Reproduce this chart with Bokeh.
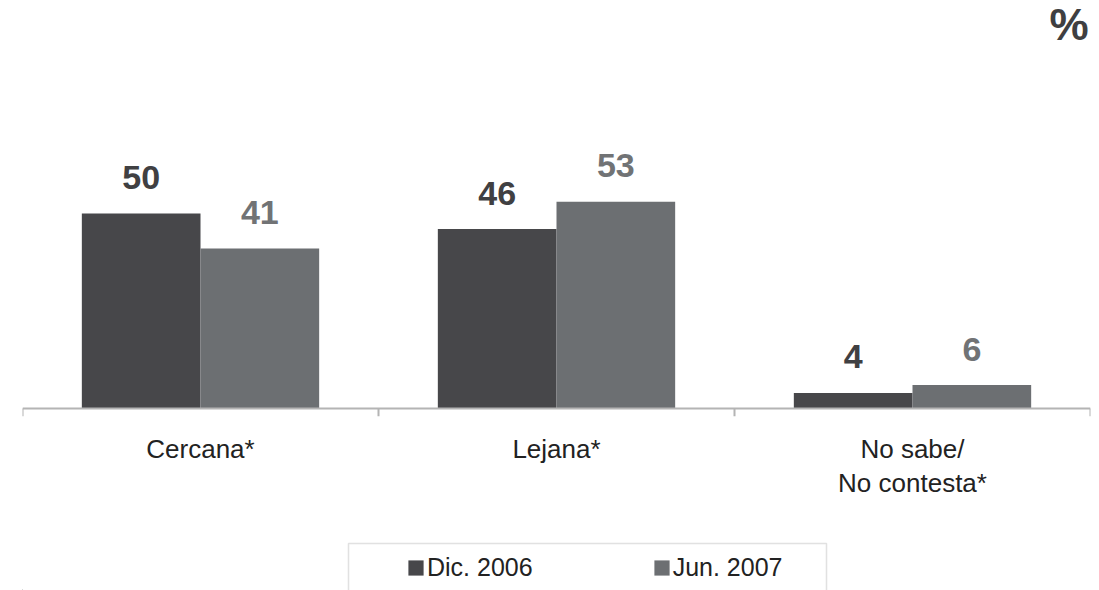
from bokeh.plotting import figure
from bokeh.layouts import column
from bokeh.models import (ColumnDataSource, FactorRange, Range1d, Span, Legend,
                          LegendItem, Label, BoxAnnotation)
from bokeh.transform import dodge
from bokeh.core.properties import value
from bokeh.embed import file_html
from bokeh.resources import INLINE

# ---- data ----
categories = ["Cercana*", "Lejana*", "No sabe/\nNo contesta*"]
series = ["Dic. 2006", "Jun. 2007"]
dic_2006 = [50, 46, 4]
jun_2007 = [41, 53, 6]
unit_label = "%"

FONT = "Liberation Sans"
C_DIC = "#47474a"
C_JUN = "#6c6f72"
C_DIC_TXT = "#404042"
C_JUN_TXT = "#717375"
C_AXIS = "#b4b4b4"

src = ColumnDataSource(dict(
    cat=categories,
    dic=dic_2006,
    jun=jun_2007,
    dic_lbl=[str(v) for v in dic_2006],
    jun_lbl=[str(v) for v in jun_2007],
))

p = figure(width=1099, height=535,
           x_range=FactorRange(factors=categories, range_padding=0),
           y_range=Range1d(-2.05, 104.62),
           output_backend="svg", toolbar_location=None,
           y_axis_location=None,
           min_border_left=22, min_border_right=9,
           min_border_top=0, min_border_bottom=119)
p.outline_line_color = None
p.xgrid.visible = False
p.ygrid.visible = False
p.background_fill_color = "white"
p.border_fill_color = "white"

r1 = p.vbar(x=dodge("cat", -1/6, range=p.x_range), top="dic", width=1/3,
            source=src, fill_color=C_DIC, line_color=None)
r2 = p.vbar(x=dodge("cat", 1/6, range=p.x_range), top="jun", width=1/3,
            source=src, fill_color=C_JUN, line_color=None)

p.text(x=dodge("cat", -1/6, range=p.x_range), y="dic", text="dic_lbl", source=src,
       text_font=value(FONT), text_font_style="bold", text_font_size="34px",
       text_align="center", text_baseline="alphabetic", y_offset=-36,
       text_color=C_DIC_TXT)
p.text(x=dodge("cat", 1/6, range=p.x_range), y="jun", text="jun_lbl", source=src,
       text_font=value(FONT), text_font_style="bold", text_font_size="34px",
       text_align="center", text_baseline="alphabetic", y_offset=-36,
       text_color=C_JUN_TXT)

# baseline and boundary ticks
p.add_layout(Span(location=0, dimension="width", line_color=C_AXIS, line_width=2))
tick_src = ColumnDataSource(dict(cat=categories))
last_src = ColumnDataSource(dict(cat=categories[-1:]))
p.segment(x0=dodge("cat", -0.5, range=p.x_range), y0=0,
          x1=dodge("cat", -0.5, range=p.x_range), y1=-2.05,
          source=tick_src, line_color=C_AXIS, line_width=2)
p.segment(x0=dodge("cat", 0.5, range=p.x_range), y0=0,
          x1=dodge("cat", 0.5, range=p.x_range), y1=-2.05,
          source=last_src, line_color=C_AXIS, line_width=2)

ax = p.xaxis[0]
ax.axis_line_color = None
ax.major_tick_line_color = None
ax.minor_tick_line_color = None
ax.major_tick_out = 0
ax.major_label_standoff = 17
ax.major_label_text_font = FONT
ax.major_label_text_font_size = "26px"
ax.major_label_text_color = "#222222"
ax.major_label_text_line_height = 1.14

# unit label
p.add_layout(Label(x=1066, y=417, x_units="screen", y_units="screen",
                   text=unit_label, text_align="right", text_baseline="top",
                   text_font=FONT, text_font_style="bold", text_font_size="44px",
                   text_color="#3f3f41"))

# ---- legend strip ----
p2 = figure(width=1099, height=55, x_range=Range1d(0, 1099), y_range=Range1d(0, 55),
            output_backend="svg", toolbar_location=None,
            x_axis_location=None, y_axis_location=None,
            min_border=0, min_border_left=0, min_border_right=0,
            min_border_top=0, min_border_bottom=0)
p2.outline_line_color = None
p2.xgrid.visible = False
p2.ygrid.visible = False
p2.background_fill_color = "white"
p2.border_fill_color = "white"

# swatch renderers for the legend (placed outside the visible range)
lr1 = p2.vbar(x=[-500], top=[1], width=1, fill_color=C_DIC, line_color=None)
lr2 = p2.vbar(x=[-500], top=[1], width=1, fill_color=C_JUN, line_color=None)

p2.add_layout(BoxAnnotation(left=326, right=804, top=47, bottom=-10,
                            left_units="screen", right_units="screen",
                            top_units="screen", bottom_units="screen",
                            fill_alpha=0, line_color="#9a9a9a", line_width=1.5))

legend = Legend(items=[LegendItem(label=series[0], renderers=[lr1]),
                       LegendItem(label=series[1], renderers=[lr2])],
                orientation="horizontal", location=(384, 8),
                padding=0, margin=0, spacing=119,
                glyph_width=19, glyph_height=19, label_standoff=2,
                label_text_font=FONT, label_text_font_size="25px",
                label_text_color="#222222",
                border_line_color=None, background_fill_alpha=0)
p2.add_layout(legend, "center")

layout = column(p, p2, spacing=0)
open("out.html", "w").write(file_html(layout, INLINE))
